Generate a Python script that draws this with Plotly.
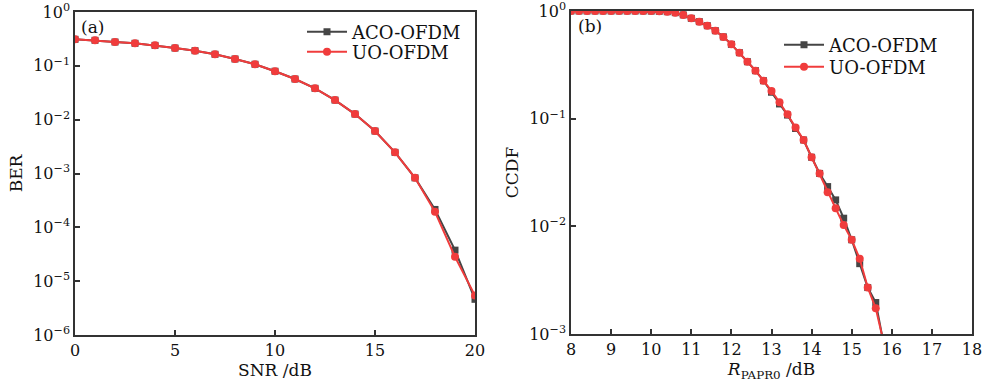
import plotly.graph_objects as go

# ---- data: panel (a) BER vs SNR ----
snr = list(range(0, 21))
ber_aco = [0.311, 0.298, 0.277, 0.262, 0.240, 0.214, 0.191, 0.164, 0.134, 0.107,
           0.0794, 0.0569, 0.0382, 0.0231, 0.0127, 0.00614, 0.00247, 8.3e-4,
           2.15e-4, 3.77e-5, 4.6e-6]
ber_uo = [0.311, 0.298, 0.277, 0.262, 0.240, 0.214, 0.191, 0.164, 0.134, 0.107,
          0.0794, 0.0569, 0.0382, 0.0231, 0.0127, 0.00614, 0.00247, 8.3e-4,
          1.94e-4, 2.83e-5, 5.4e-6]

# ---- data: panel (b) CCDF vs R_PAPR0 ----
papr = [8.0, 8.2, 8.4, 8.6, 8.8, 9.0, 9.2, 9.4, 9.6, 9.8,
        10.0, 10.2, 10.4, 10.6, 10.8, 11.0, 11.2, 11.4, 11.6, 11.8,
        12.0, 12.2, 12.4, 12.6, 12.8, 13.0, 13.2, 13.4, 13.6, 13.8,
        14.0, 14.2, 14.4, 14.6, 14.8, 15.0, 15.2, 15.4, 15.6, 15.8]
ccdf_aco = [1.0, 1.0, 1.0, 1.0, 1.0, 1.0, 1.0, 1.0, 1.0, 1.0,
            0.998, 0.994, 0.985, 0.965, 0.92, 0.855, 0.796, 0.73, 0.656, 0.575,
            0.49, 0.41, 0.338, 0.279, 0.225, 0.176, 0.137, 0.108, 0.081, 0.0634,
            0.0438, 0.031, 0.0234, 0.0176, 0.0119, 0.0075, 0.0045, 0.0027, 0.00196, 0.0008]
ccdf_uo = [1.0, 1.0, 1.0, 1.0, 1.0, 1.0, 1.0, 1.0, 1.0, 1.0,
           0.998, 0.994, 0.985, 0.965, 0.92, 0.855, 0.796, 0.73, 0.656, 0.575,
           0.49, 0.41, 0.338, 0.279, 0.225, 0.181, 0.142, 0.110, 0.083, 0.0634,
           0.0438, 0.031, 0.0207, 0.0147, 0.0103, 0.0075, 0.0050, 0.0027, 0.00173, 0.00083]

# ---- tick labels ----
ber_tickvals = [1, 1e-1, 1e-2, 1e-3, 1e-4, 1e-5, 1e-6]
ber_ticktext = ["10<sup>0</sup>", "10<sup>\u22121</sup>", "10<sup>\u22122</sup>",
                "10<sup>\u22123</sup>", "10<sup>\u22124</sup>", "10<sup>\u22125</sup>",
                "10<sup>\u22126</sup>"]
ccdf_tickvals = [1, 1e-1, 1e-2, 1e-3]
ccdf_ticktext = ["10<sup>0</sup>", "10<sup>\u22121</sup>", "10<sup>\u22122</sup>",
                 "10<sup>\u22123</sup>"]
snr_ticks = [0, 5, 10, 15, 20]
papr_ticks = list(range(8, 19))

BLACK = "#454545"
RED = "#F03C3C"
FONT = "DejaVu Serif"
FW, FH = 987, 388


def px(x):
    return x / FW


def py(y):
    return 1 - y / FH


fig = go.Figure()


def add_pair(x, y1, y2, xa, ya, leg1, leg2):
    fig.add_trace(go.Scatter(x=x, y=y1, name="ACO-OFDM", mode="lines+markers",
                             line=dict(color=BLACK, width=2),
                             marker=dict(symbol="square", size=7, color=BLACK),
                             xaxis=xa, yaxis=ya, legend=leg1))
    fig.add_trace(go.Scatter(x=x, y=y2, name="UO-OFDM", mode="lines+markers",
                             line=dict(color=RED, width=2),
                             marker=dict(symbol="circle", size=8, color=RED),
                             xaxis=xa, yaxis=ya, legend=leg2))


add_pair(snr, ber_aco, ber_uo, "x", "y", "legend", "legend2")
add_pair(papr, ccdf_aco, ccdf_uo, "x2", "y2", "legend3", "legend4")

axis_common = dict(showgrid=False, zeroline=False, showline=True, linecolor="#333333",
                   linewidth=1.5, mirror=True, ticks="inside", ticklen=5,
                   tickcolor="#333333", tickwidth=1.5, automargin=False,
                   ticklabeloverflow="allow",
                   tickfont=dict(family=FONT, size=16, color="#111111"))


def leg(x, y):
    return dict(x=px(x), y=py(y), xanchor="left", yanchor="middle",
                bgcolor="rgba(0,0,0,0)", font=dict(family=FONT, size=18, color="#111111"),
                tracegroupgap=0, itemwidth=40, borderwidth=0, visible=True)


fig.update_layout(
    width=FW, height=FH,
    showlegend=True,
    margin=dict(l=0, r=0, t=0, b=0, autoexpand=False),
    paper_bgcolor="white", plot_bgcolor="white",
    font=dict(family=FONT, color="#111111"),
    xaxis=dict(domain=[px(75), px(475)], range=[0, 20], tickvals=snr_ticks,
               title=dict(text="SNR /dB", font=dict(family=FONT, size=17), standoff=4),
               anchor="y", **axis_common),
    yaxis=dict(domain=[py(335), py(12)], type="log", range=[-6, 0],
               tickvals=ber_tickvals, ticktext=ber_ticktext,
               title=dict(text="BER", font=dict(family=FONT, size=17), standoff=6),
               anchor="x", **axis_common),
    xaxis2=dict(domain=[px(571), px(972)], range=[8, 18], tickvals=papr_ticks,
                title=dict(text="<i>R</i><sub>PAPR0</sub> /dB", font=dict(family=FONT, size=17), standoff=2),
                anchor="y2", **axis_common),
    yaxis2=dict(domain=[py(334), py(11)], type="log", range=[-3, 0],
                tickvals=ccdf_tickvals, ticktext=ccdf_ticktext,
                title=dict(text="CCDF", font=dict(family=FONT, size=17), standoff=6),
                anchor="x2", **axis_common),
    legend=leg(302, 32),
    legend2=leg(302, 52),
    legend3=leg(779, 45),
    legend4=leg(779, 67),
    annotations=[
        dict(text="(a)", x=px(79), y=py(27), xref="paper", yref="paper",
             xanchor="left", yanchor="middle", showarrow=False,
             font=dict(family=FONT, size=17, color="#111111")),
        dict(text="(b)", x=px(576), y=py(26), xref="paper", yref="paper",
             xanchor="left", yanchor="middle", showarrow=False,
             font=dict(family=FONT, size=17, color="#111111")),
    ],
)

fig.write_html("out.html", config={"displayModeBar": False},
               post_script="document.body.style.margin='0';document.body.style.overflow='hidden';")
